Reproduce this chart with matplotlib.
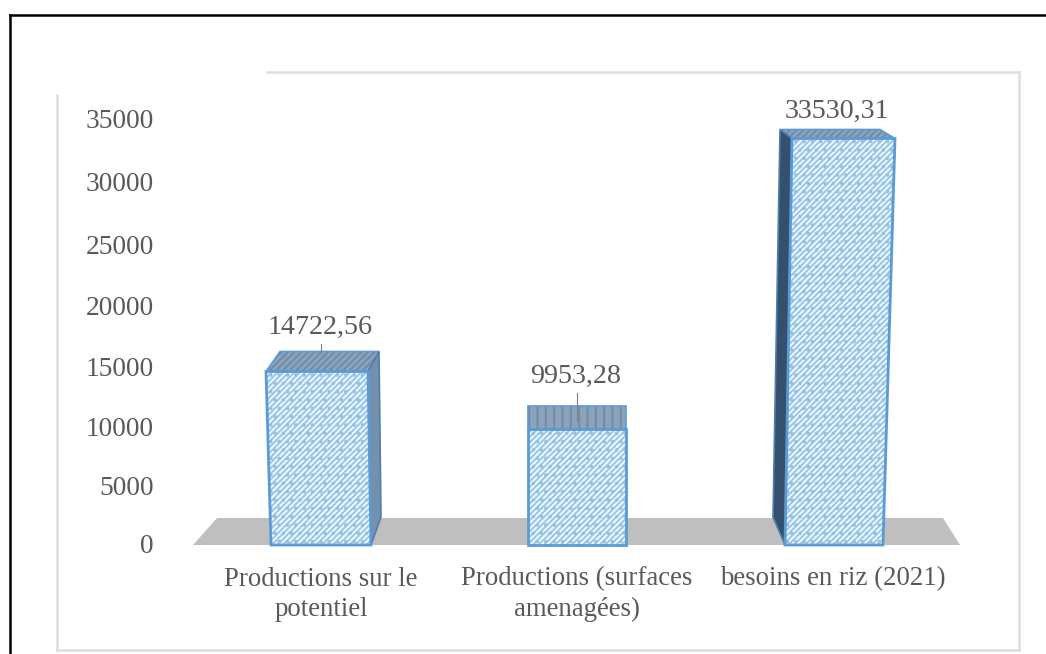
import numpy as np
import matplotlib
matplotlib.use('Agg')
import matplotlib.pyplot as plt
from matplotlib.lines import Line2D
from matplotlib.transforms import ScaledTranslation

W, H = 1046, 654

categories = ['Productions sur le\npotentiel', 'Productions (surfaces\namenagées)', 'besoins en riz (2021)']
valeurs = [14722.56, 9953.28, 33530.31]
etiquettes = ['14722,56', '9953,28', '33530,31']
ticks = [0, 5000, 10000, 15000, 20000, 25000, 30000, 35000]

plt.rcParams['font.family'] = ['Liberation Serif', 'DejaVu Serif']
plt.rcParams['hatch.linewidth'] = 1.4

BLEU = '#5b9bd5'
TEXTE = '#595959'
PX_X = 1 / 256.0

# l'axe des y est legerement en perspective sur l'image
A, B = 0.01152, 1.8e-8


def vers_px(v):
    v = np.asarray(v, dtype=float)
    return A * v + B * v * v


def depuis_px(p):
    p = np.asarray(p, dtype=float)
    return (-A + np.sqrt(A * A + 4 * B * p)) / (2 * B)


def decale(v, px):
    return float(depuis_px(vers_px(v) + px))


fig = plt.figure(figsize=(W / 100, H / 100), dpi=100)
ax = fig.add_axes([160 / W, (H - 545) / H, (W - 160) / W, 530 / H])
ax.set_yscale('function', functions=(vers_px, depuis_px))
ax.set_xlim((160 - 321) * PX_X, (W - 321) * PX_X)
ax.set_ylim(0, float(depuis_px(530)))
for s in ax.spines.values():
    s.set_visible(False)

ax.set_yticks(ticks)
ax.set_yticklabels([str(t) for t in ticks], fontsize=19.7, color=TEXTE)
ax.minorticks_off()
ax.set_xticks(range(3))
ax.set_xticklabels(categories, fontsize=19.3, color=TEXTE, linespacing=1.28)
ax.tick_params(axis='y', length=0, pad=4.5)
ax.tick_params(axis='x', length=0, pad=15.5)
monte = ScaledTranslation(0, 1.2 / 72, fig.dpi_scale_trans)
for lab in ax.get_yticklabels():
    lab.set_transform(lab.get_transform() + monte)

# sol gris
sol_x = [(193 - 321) * PX_X, (960 - 321) * PX_X, (943 - 321) * PX_X, (217 - 321) * PX_X]
sol_y = [0, 0, decale(0, 27), decale(0, 27)]
ax.fill(sol_x, sol_y, color='#bfbfbf', lw=0, zorder=1, clip_on=False)

# forme de chaque barre, en pixels autour de son centre
bas_g = [-50, -49, -48]
bas_d = [50, 49, 50]
haut_g = [-55, -49, -41]
haut_d = [47, 49, 62]
prof_haut = [(14, 20, 11), (0, 23, 0), (-12, 9, -15)]
cote_bas = [(60, 28), None, (-60, 28)]
hachure_haut = ['/////', '||', '/////']
sombre = ['#7390ad', '#7390ad', '#35506c']

for i, v in enumerate(valeurs):
    bg, bd, hg, hd = bas_g[i] * PX_X, bas_d[i] * PX_X, haut_g[i] * PX_X, haut_d[i] * PX_X
    dg, dz, dd = prof_haut[i]
    y_fond = decale(v, dz)

    # face de dessus
    ax.fill([i + hg, i + hd, i + hd + dd * PX_X, i + hg + dg * PX_X], [v, v, y_fond, y_fond],
            facecolor='#8ba3bb', edgecolor='#6f8ba6', hatch=hachure_haut[i], lw=0, zorder=3, clip_on=False)
    ax.fill([i + hg, i + hd, i + hd + dd * PX_X, i + hg + dg * PX_X], [v, v, y_fond, y_fond],
            facecolor='none', edgecolor=BLEU, lw=1.2, zorder=3, clip_on=False)

    # face de cote
    if cote_bas[i] is not None:
        cx, cz = cote_bas[i]
        haut = hd + dd * PX_X if i == 0 else hg + dg * PX_X
        avant = hd if i == 0 else hg
        bas = bd if i == 0 else bg
        ax.fill([i + avant, i + haut, i + cx * PX_X, i + bas], [v, y_fond, decale(0, cz), 0],
                facecolor=sombre[i], edgecolor='#4f7fae', lw=1.2, zorder=3, clip_on=False)

    # face avant : fond, rayures, points, contour
    x_av = [i + bg, i + bd, i + hd, i + hg]
    y_av = [0, 0, v, v]
    ax.fill(x_av, y_av, facecolor='#f2f9fe', edgecolor='#8fc8f2', hatch='//////', lw=0, zorder=4, clip_on=False)
    ax.fill(x_av, y_av, facecolor='none', edgecolor='#a9bccd', hatch='..', lw=0, zorder=4, clip_on=False)
    ax.fill(x_av, y_av, facecolor='none', edgecolor=BLEU, lw=2, zorder=5, clip_on=False)

# etiquettes de valeur
decal = [44, 52, 27]
decal_x = [-1, -1, 4]
for i, v in enumerate(valeurs):
    ax.text(i + decal_x[i] * PX_X, decale(v, decal[i]), etiquettes[i], ha='center', va='center',
            fontsize=20.2, color=TEXTE, zorder=6)

# petits traits de rappel
for i, (d0, d1) in enumerate([(20, 27), (8, 36)]):
    ax.plot([i, i], [decale(valeurs[i], d0), decale(valeurs[i], d1)], color='#7f7f7f', lw=0.8, zorder=5)


def trait(x0, y0, x1, y1, couleur, lw):
    fig.add_artist(Line2D([x0 / W, x1 / W], [1 - y0 / H, 1 - y1 / H], color=couleur, lw=lw))


# cadres
trait(10, 15, 1046, 15, 'black', 1.8)
trait(10, 15, 10, 654, 'black', 1.8)
trait(267, 72, 1019, 72, '#dedede', 1.8)
trait(1019, 72, 1019, 650, '#dedede', 1.8)
trait(57, 650, 1019, 650, '#dedede', 1.8)
trait(57, 95, 57, 650, '#dedede', 1.8)

fig.savefig('out.png', dpi=100)
